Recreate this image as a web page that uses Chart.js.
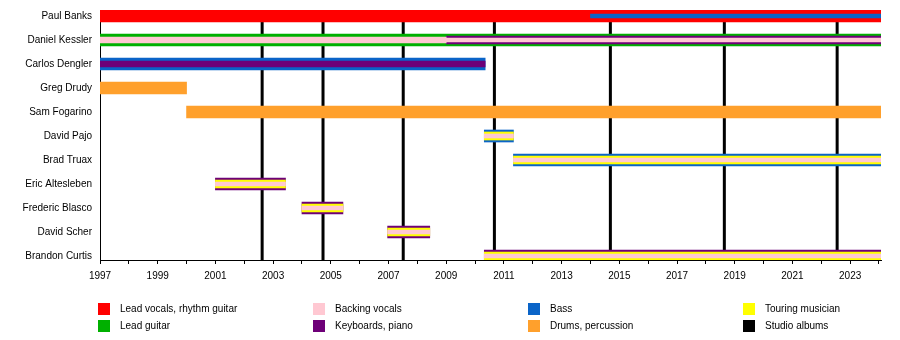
<!DOCTYPE html>
<html><head><meta charset="utf-8">
<script src="https://cdn.jsdelivr.net/npm/chart.js@4"></script>
<style>
html,body{margin:0;padding:0;background:#fff;}
#wrap{position:relative;width:900px;height:340px;}
canvas{position:absolute;left:0;top:0;}
.lg{position:absolute;font:10px "Liberation Sans",Arial,sans-serif;color:#000;white-space:nowrap;line-height:12px;}
.sw{position:absolute;width:12px;height:12px;}
</style></head><body>
<div id="wrap"><canvas id="c" width="900" height="340"></canvas></div>
<script>
// ---------- DATA ----------
const members = ['Paul Banks','Daniel Kessler','Carlos Dengler','Greg Drudy','Sam Fogarino','David Pajo','Brad Truax','Eric Altesleben','Frederic Blasco','David Scher','Brandon Curtis'];
const timelineStart = 1997;
const timelineEnd = 2024.07;
const years = [1997,1998,1999,2000,2001,2002,2003,2004,2005,2006,2007,2008,2009,2010,2011,2012,2013,2014,2015,2016,2017,2018,2019,2020,2021,2022,2023,2024];
const tickLabels = ['1997','1999','2001','2003','2005','2007','2009','2011','2013','2015','2017','2019','2021','2023'];
const roles = ['Lead vocals, rhythm guitar','Lead guitar','Backing vocals','Keyboards, piano','Bass','Drums, percussion','Touring musician'];
const albumLabel = 'Studio albums';
const albumDates = [2002.62, 2004.73, 2007.51, 2010.67, 2014.69, 2018.64, 2022.55];
// spans: member, role, from, to, layer (0 = main role, higher = inner stripe)
const spanMember = ['Paul Banks','Paul Banks','Daniel Kessler','Daniel Kessler','Daniel Kessler','Daniel Kessler','Carlos Dengler','Carlos Dengler','Greg Drudy','Sam Fogarino','David Pajo','David Pajo','David Pajo','Brad Truax','Brad Truax','Brad Truax','Eric Altesleben','Eric Altesleben','Eric Altesleben','Frederic Blasco','Frederic Blasco','Frederic Blasco','David Scher','David Scher','David Scher','Brandon Curtis','Brandon Curtis','Brandon Curtis'];
const spanRole = ['Lead vocals, rhythm guitar','Bass','Lead guitar','Backing vocals','Keyboards, piano','Backing vocals','Bass','Keyboards, piano','Drums, percussion','Drums, percussion','Bass','Touring musician','Backing vocals','Bass','Touring musician','Backing vocals','Keyboards, piano','Touring musician','Backing vocals','Keyboards, piano','Touring musician','Backing vocals','Keyboards, piano','Touring musician','Backing vocals','Keyboards, piano','Touring musician','Backing vocals'];
const spanFrom = [1997,2014.0,1997,1997,2009.0,2009.0,1997,1997,1997,2000.0,2010.32,2010.32,2010.32,2011.33,2011.33,2011.33,2001.0,2001.0,2001.0,2004.0,2004.0,2004.0,2006.97,2006.97,2006.97,2010.32,2010.32,2010.32];
const spanTo = [timelineEnd,timelineEnd,timelineEnd,2009.0,timelineEnd,timelineEnd,2010.35,2010.35,2000.0,timelineEnd,2011.33,2011.33,2011.33,timelineEnd,timelineEnd,timelineEnd,2003.43,2003.43,2003.43,2005.42,2005.42,2005.42,2008.43,2008.43,2008.43,timelineEnd,timelineEnd,timelineEnd];
const spanLayer = [0,3,0,2,1,3,0,2,0,0,0,1,3,0,1,3,0,1,3,0,1,3,0,1,3,0,1,3];

// ---------- STYLE ----------
const FONT = '"Liberation Sans", Arial, sans-serif';
const roleColors = {
  'Lead vocals, rhythm guitar':'#ff0000',
  'Lead guitar':'#00b000',
  'Backing vocals':'#ffc8d2',
  'Keyboards, piano':'#6e0078',
  'Bass':'#0a64c8',
  'Drums, percussion':'#ffa02c',
  'Touring musician':'#ffff00'
};
const albumColor = '#000000';
const layerThickness = [12, 8, 6, 4];

const datasets = [];
for (let L = 0; L < layerThickness.length; L++) {
  const data = [], colors = [];
  spanLayer.forEach((lay, i) => {
    if (lay !== L) return;
    data.push({ y: members.indexOf(spanMember[i]), x: [spanFrom[i], spanTo[i]] });
    colors.push(roleColors[spanRole[i]]);
  });
  datasets.push({
    type: 'bar', data, backgroundColor: colors, borderWidth: 0,
    barThickness: layerThickness[L], grouped: false, order: 5 - L, clip: 0
  });
}
albumDates.forEach(d => {
  datasets.push({
    type: 'line',
    data: [{ x: d, y: -0.25 }, { x: d, y: members.length - 1 + 0.1667 }],
    borderColor: albumColor, borderWidth: 3, pointRadius: 0, order: 20, fill: false
  });
});

new Chart(document.getElementById('c'), {
  type: 'bar',
  data: { datasets },
  options: {
    indexAxis: 'y',
    responsive: false,
    animation: false,
    devicePixelRatio: 1,
    events: [],
    layout: { padding: { top: 10, right: 19, bottom: 50, left: 0 } },
    plugins: { legend: { display: false }, tooltip: { enabled: false } },
    scales: {
      x: {
        type: 'linear', position: 'bottom', min: timelineStart, max: timelineEnd,
        afterBuildTicks: s => { s.ticks = years.map(v => ({ value: v })); },
        afterFit: s => { s.height = 30; },
        ticks: {
          autoSkip: false, maxRotation: 0, minRotation: 0, padding: 6, color: '#000',
          font: { family: FONT, size: 10 },
          callback: v => tickLabels.includes(String(v)) ? String(v) : ''
        },
        grid: { drawOnChartArea: false, drawTicks: true, tickLength: 4, color: '#000', lineWidth: 1 },
        border: { display: true, color: '#000', width: 1 }
      },
      y: {
        type: 'linear', reverse: true, min: -0.25, max: members.length - 1 + 0.1667, offset: false,
        afterBuildTicks: s => { s.ticks = members.map((m, i) => ({ value: i })); },
        afterFit: s => { s.width = 100; s.paddingTop = 0; s.paddingBottom = 0; },
        ticks: {
          autoSkip: false, padding: 8, color: '#000',
          font: { family: FONT, size: 10 },
          callback: v => members[v]
        },
        grid: { display: false, drawTicks: false },
        border: { display: true, color: '#000', width: 1 }
      }
    }
  }
});

// ---------- LEGEND (HTML) ----------
const legendLabels = roles.concat([albumLabel]);
const legendColors = legendLabels.map(l => roleColors[l] || albumColor);
const colX = [98, 313, 528, 743], rowY = [303, 320];
const wrap = document.getElementById('wrap');
legendLabels.forEach((lab, i) => {
  const x = colX[Math.floor(i / 2)], y = rowY[i % 2];
  const sw = document.createElement('div');
  sw.className = 'sw'; sw.style.left = x + 'px'; sw.style.top = y + 'px'; sw.style.background = legendColors[i];
  const tx = document.createElement('div');
  tx.className = 'lg'; tx.style.left = (x + 22) + 'px'; tx.style.top = y + 'px'; tx.textContent = lab;
  wrap.appendChild(sw); wrap.appendChild(tx);
});
</script>
</body></html>
